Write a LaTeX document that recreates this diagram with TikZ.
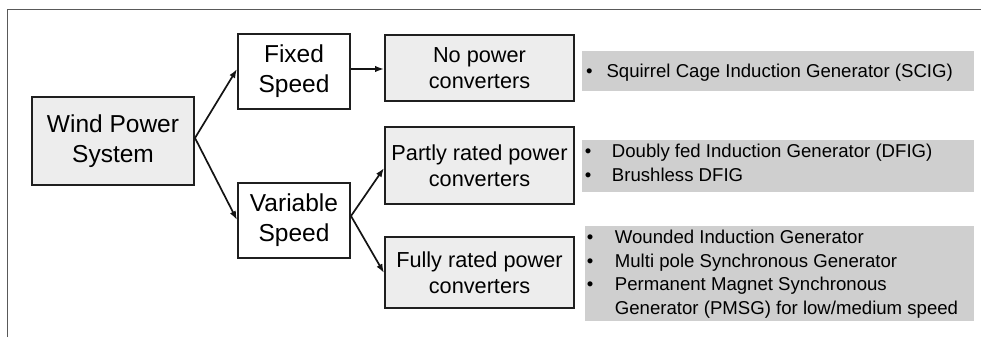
\documentclass[tikz,border=0pt]{standalone}
\usepackage{fontspec}
\setmainfont{Liberation Sans}
\usetikzlibrary{arrows.meta}

\begin{document}
\begin{tikzpicture}[x=1pt,y=1pt,
  box/.style={draw=black!88, line width=2pt, align=center, inner sep=0pt},
  lightbox/.style={box, fill=black!7},
  whitebox/.style={box, fill=white},
  bigtext/.style={font=\fontsize{24.5}{30}\selectfont},
  midtext/.style={font=\fontsize{21.7}{25.5}\selectfont},
  listbox/.style={fill=black!19, inner sep=0pt},
  listtext/.style={anchor=base west, inner sep=0pt, font=\fontsize{18.6}{23.5}\selectfont},
  arr/.style={line width=1.7pt, draw=black!92, -{Latex[length=9pt,width=6.5pt]}},
  frame/.style={draw=black!65, line width=1pt}]

\useasboundingbox (0,0) rectangle (981,337);

% outer rule along the top and left
\coordinate (fbot) at (7,0);
\coordinate (fcorner) at (7,327);
\coordinate (fright) at (981,327);
\draw[frame] (fbot) -- (fcorner) -- (fright);

% main tree
\node[lightbox, bigtext, minimum width=162, minimum height=88] (wps) at (113,196) {Wind Power\\System};
\node[whitebox, bigtext, minimum width=112, minimum height=75] (fixed) at (294,265.5) {Fixed\\Speed};
\node[whitebox, bigtext, minimum width=112, minimum height=75] (var) at (294,116.5) {Variable\\Speed};

\node[lightbox, midtext, minimum width=189, minimum height=66] (nopc) at (479.5,269) {No power\\converters};
\node[lightbox, midtext, minimum width=189, minimum height=77] (part) at (479.5,171.5) {Partly rated power\\converters};
\node[lightbox, midtext, minimum width=189, minimum height=71] (full) at (479.5,64.5) {Fully rated power\\converters};

% generator lists
\node[listbox, minimum width=392, minimum height=40] (g1) at (778,266) {};
\node[listbox, minimum width=392, minimum height=52] (g2) at (778,171) {};
\node[listbox, minimum width=389, minimum height=95] (g3) at (779.5,63.5) {};

\node[listtext] (l1) at (585.8,259.5)
  {\begin{tabular}[t]{@{}l@{\hspace{14pt}}l@{}}
   \textbullet & Squirrel Cage Induction Generator (SCIG)
   \end{tabular}};
\node[listtext] (l2) at (584.7,179)
  {\begin{tabular}[t]{@{}l@{\hspace{20.5pt}}l@{}}
   \textbullet & Doubly fed Induction Generator (DFIG)\\
   \textbullet & Brushless DFIG
   \end{tabular}};
\node[listtext] (l3) at (586.7,93)
  {\begin{tabular}[t]{@{}l@{\hspace{21.5pt}}l@{}}
   \textbullet & Wounded Induction Generator\\
   \textbullet & Multi pole Synchronous Generator\\
   \textbullet & Permanent Magnet Synchronous\\
               & Generator (PMSG) for low/medium speed
   \end{tabular}};

% connectors
\draw[arr] ([yshift=3pt]wps.east) -- ([yshift=2.5pt]fixed.west);
\draw[arr] ([yshift=3pt]wps.east) -- ([yshift=0.5pt]var.west);
\draw[arr] ([yshift=2.5pt]fixed.east) -- ([yshift=2.5pt]fixed.east -| nopc.west);
\draw[arr] ([yshift=4.5pt]var.east) -- ([yshift=-2.5pt]part.west);
\draw[arr] ([yshift=4.5pt]var.east) -- ([yshift=-0.5pt]full.west);
\end{tikzpicture}
\end{document}
